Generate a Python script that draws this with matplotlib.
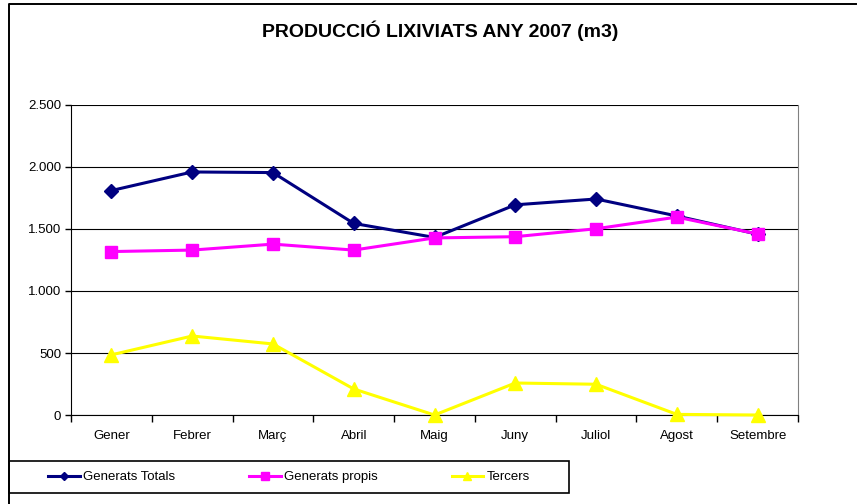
import matplotlib
matplotlib.use("Agg")
from matplotlib import pyplot as plt
from matplotlib.lines import Line2D
from matplotlib.patches import Rectangle

plt.rcParams['font.family'] = ['Liberation Sans', 'DejaVu Sans']

# dades
mesos = ['Gener', 'Febrer', 'Març', 'Abril', 'Maig', 'Juny', 'Juliol', 'Agost', 'Setembre']
generats_totals = [1810, 1960, 1955, 1545, 1432, 1695, 1742, 1605, 1458]
generats_propis = [1318, 1330, 1378, 1330, 1428, 1438, 1502, 1596, 1460]
tercers = [485, 637, 573, 210, 0, 258, 248, 5, 0]
y_ticks = [0, 500, 1000, 1500, 2000, 2500]
y_labels = ['0', '500', '1.000', '1.500', '2.000', '2.500']

W, H = 858, 504
fig = plt.figure(figsize=(W / 100, H / 100), dpi=100, facecolor='white')

# marc exterior (només esquerra i dalt es veuen)
fig.add_artist(Line2D([9 / W, 9 / W, 856 / W], [0, 1 - 4 / H, 1 - 4 / H], transform=fig.transFigure,
                      color='black', linewidth=1.4))

ax = fig.add_axes([71 / W, 1 - 415 / H, (798 - 71) / W, (415 - 105) / H])
x = list(range(len(mesos)))
l1, = ax.plot(x, generats_totals, color='#000080', marker='D', markersize=7, linewidth=2.2,
              label='Generats Totals', zorder=4)
l2, = ax.plot(x, generats_propis, color='#FF00FF', marker='s', markersize=9, linewidth=2.2,
              label='Generats propis', zorder=5)
l3, = ax.plot(x, tercers, color='#FFFF00', marker='^', markersize=10, linewidth=2.2,
              label='Tercers', zorder=6, clip_on=False)

ax.set_xlim(-0.5, len(mesos) - 0.5)
ax.set_ylim(0, 2500)
ax.set_yticks(y_ticks)
ax.set_yticklabels(y_labels, fontsize=9.5)
ax.set_xticks(x)
ax.set_xticklabels(mesos, fontsize=9.5)
ax.tick_params(axis='x', length=0, pad=11)
ax.set_xticks([i - 0.5 for i in range(len(mesos) + 1)], minor=True)
ax.tick_params(axis='x', which='minor', length=5, direction='out', width=1)
ax.tick_params(axis='y', length=4, direction='out', width=1, pad=3)
ax.grid(axis='y', color='black', linewidth=0.8)
ax.set_axisbelow(True)
ax.spines['left'].set_color('black')
ax.spines['bottom'].set_color('black')
ax.spines['top'].set_visible(False)
ax.spines['right'].set_color('#808080')

fig.text(440 / W, 1 - 31 / H, 'PRODUCCIÓ LIXIVIATS ANY 2007 (m3)', ha='center', va='center',
         fontsize=14, fontweight='bold')

# caixa de la llegenda
fig.add_artist(Rectangle((9 / W, 1 - 493 / H), 560 / W, 32 / H, transform=fig.transFigure,
                         fill=False, edgecolor='black', linewidth=1.2))
leg = fig.legend(handles=[l1, l2, l3], loc='center left', ncol=3,
                 bbox_to_anchor=(48 / W, 1 - 477 / H), borderpad=0, borderaxespad=0,
                 fontsize=9.5, frameon=False, handlelength=2.4, handletextpad=0.25,
                 columnspacing=5.6, markerscale=0.6)

fig.savefig('out.png', dpi=100)
